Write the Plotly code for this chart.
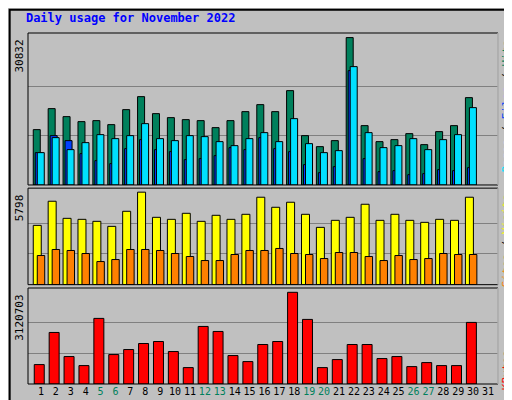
import plotly.graph_objects as go

days = list(range(1, 32))
weekend = [5, 6, 12, 13, 19, 20, 26, 27]

hits = [11579, 15973, 14299, 13253, 13462, 12625, 15764, 18484, 14927, 14090, 13671, 13462, 11997, 13462, 15345,
        16810, 15345, 19739, 10323, 8021, 9277, 30832, 12416, 9068, 9486, 10742, 8440, 11160, 12416, 18275]
files = [6766, 10323, 9277, 6557, 5092, 4464, 7603, 9486, 7394, 6975, 5301, 5510, 6138, 7812, 7394,
         9905, 7603, 6975, 4255, 2581, 3836, 23924, 5510, 2790, 2999, 2162, 2372, 3209, 2999, 3627]
pages = [6766, 9905, 7394, 8858, 10532, 9695, 10323, 12834, 9695, 9277, 10323, 10114, 9068, 8231, 9695,
         10951, 9068, 13880, 8649, 6766, 7184, 24761, 10951, 7812, 8231, 9695, 7394, 9486, 10532, 16182]
visits = [3717, 5229, 4158, 4095, 3969, 3654, 4599, 5798, 4221, 4095, 4473, 3969, 4347, 4095, 4410,
          5481, 4851, 5166, 4410, 3591, 4032, 4221, 5040, 4032, 4410, 4032, 3906, 4095, 4032, 5481]
sites = [1827, 2205, 2142, 1953, 1449, 1575, 2205, 2205, 2142, 1953, 1764, 1512, 1512, 1890, 2142,
         2142, 2268, 1953, 1890, 1638, 2016, 2016, 1764, 1512, 1827, 1575, 1638, 1953, 1890, 1890]
kbytes = [660585, 1753968, 933931, 626417, 2232322, 1002267, 1173108, 1378117, 1446454, 1104772, 558081,
          1958977, 1788136, 968099, 763090, 1343949, 1446454, 3120703, 2198154, 558081, 831426, 1343949,
          1343949, 865594, 933931, 592249, 728922, 626417, 626417, 2095650]

max_hits, max_visits, max_kb = 30832, 5798, 3120703
MONO = "DejaVu Sans Mono"
x = days[:30]

def bar(y, color, yaxis, offset, width, name):
    return go.Bar(x=x, y=y, yaxis=yaxis, offset=offset, width=width, name=name,
                  marker=dict(color=color, line=dict(color="black", width=1)))

fig = go.Figure([
    bar(hits, "#00805c", "y", -0.517, 0.47, "Hits"),
    bar(files, "#0040ff", "y", -0.383, 0.47, "Files"),
    bar(pages, "#00e0ff", "y", -0.248, 0.47, "Pages"),
    bar(visits, "#ffff00", "y2", -0.517, 0.537, "Visits"),
    bar(sites, "#ff8000", "y2", -0.248, 0.5, "Sites"),
    bar(kbytes, "#ff0000", "y3", -0.45, 0.67, "KBytes"),
])

ticktext = [f"<span style='color:#00805c'>{d}</span>" if d in weekend else str(d) for d in days]

def yax(dom, top, mx):
    return dict(domain=dom, range=[0, top], tickvals=[mx / 3, 2 * mx / 3], showticklabels=False,
                ticks="", showgrid=True, gridcolor="#808080", gridwidth=1, zeroline=False,
                fixedrange=True, automargin=False)

fig.update_layout(
    width=512, height=400, barmode="overlay", showlegend=False,
    paper_bgcolor="#c0c0c0", plot_bgcolor="#c0c0c0",
    margin=dict(l=20, r=22, t=25, b=24),
    font=dict(family=MONO, size=10, color="black"),
    title=dict(text="<b>Daily usage for November 2022</b>", x=0.035, y=0.985, yanchor="top",
               font=dict(family=MONO, size=12, color="#0000ff")),
    xaxis=dict(range=[0.13, 31.67], tickvals=days, ticktext=ticktext, ticks="", showgrid=False,
               tickangle=0, automargin=False, anchor="y3", tickfont=dict(family=MONO, size=10)),
    yaxis=yax([0.567, 1], 31795, max_hits),
    yaxis2=yax([0.283, 0.558], 6050, max_visits),
    yaxis3=yax([0, 0.2735], 3267000, max_kb),
)

for yr, mx, dom in [("y", max_hits, (0.567, 1)), ("y2", max_visits, (0.283, 0.558)), ("y3", max_kb, (0, 0.2735))]:
    fig.add_annotation(text=str(mx), xref="paper", yref=yr, x=0, y=mx, xanchor="right", yanchor="top",
                       textangle=-90, showarrow=False, font=dict(family=MONO, size=11))
    fig.add_shape(type="rect", xref="paper", yref="paper", x0=0, x1=1, y0=dom[0], y1=dom[1],
                  line=dict(color="black", width=1))
    fig.add_shape(type="line", xref="paper", yref="paper", x0=1, x1=1, y0=dom[0], y1=dom[1],
                  line=dict(color="white", width=1))

legends = [
    ("y", max_hits, "<span style='color:#00e0ff'>Pages</span> / <span style='color:#0040ff'>Files</span> / <span style='color:#00805c'>Hits</span>"),
    ("y2", max_visits, "<span style='color:#ff8000'>Sites</span> / <span style='color:#ffff00'>Visits</span>"),
    ("y3", 1200000, "<span style='color:#ff0000'>KBytes</span>"),
]
for yr, yv, txt in legends:
    fig.add_annotation(text=txt, xref="paper", yref=yr, x=1.0, y=yv, xanchor="left", yanchor="top",
                       textangle=-90, showarrow=False, font=dict(family=MONO, size=11))

# outer frame
fig.add_shape(type="rect", xref="paper", yref="paper", x0=-0.039, x1=1.043, y0=-0.066, y1=1.066,
              line=dict(color="black", width=2))

fig.write_html("out.html")
